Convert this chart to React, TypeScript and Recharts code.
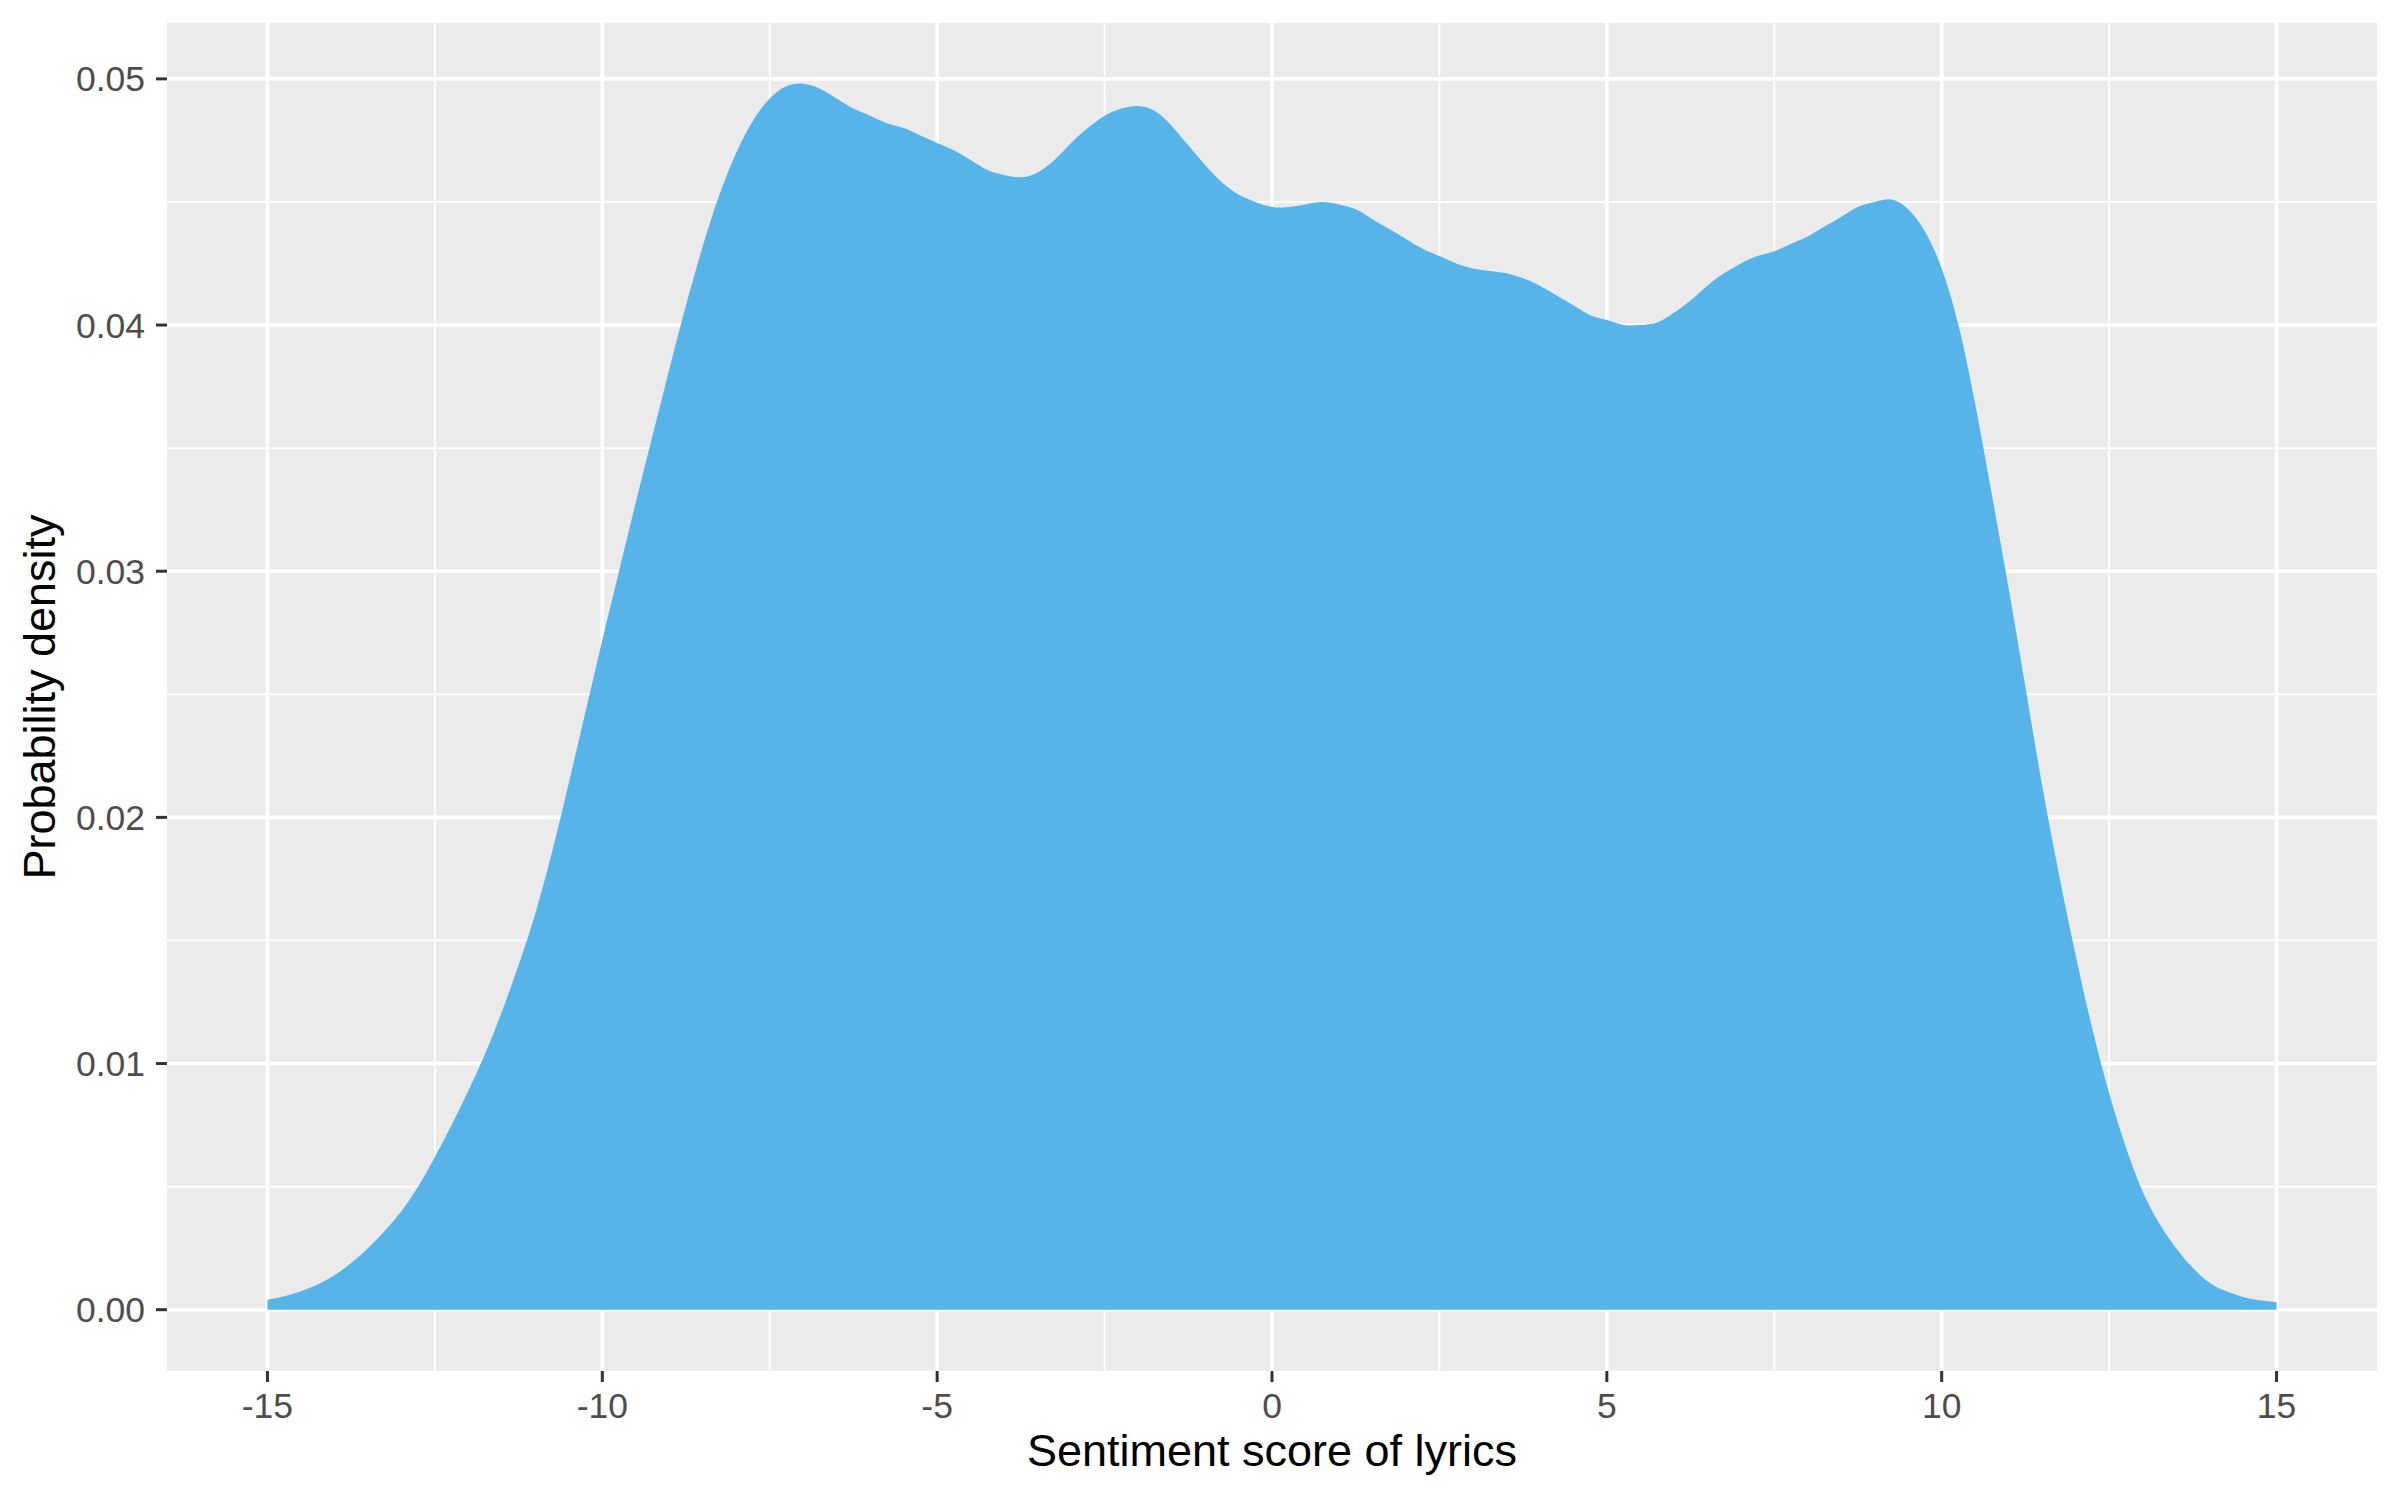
import { AreaChart, Area, XAxis, YAxis, CartesianGrid } from 'recharts'

// kernel density of lyric sentiment
const SCORE = [
  -15, -14.75, -14.5, -14.25, -14, -13.75, -13.5, -13.25, -13, -12.75,
  -12.5, -12.25, -12, -11.75, -11.5, -11.25, -11, -10.75, -10.5, -10.25,
  -10, -9.75, -9.5, -9.25, -9, -8.75, -8.5, -8.25, -8, -7.75,
  -7.5, -7.25, -7, -6.75, -6.5, -6.25, -6, -5.75, -5.5, -5.25,
  -5, -4.75, -4.5, -4.25, -4, -3.75, -3.5, -3.25, -3, -2.75,
  -2.5, -2.25, -2, -1.75, -1.5, -1.25, -1, -0.75, -0.5, -0.25,
  0, 0.25, 0.5, 0.75, 1, 1.25, 1.5, 1.75, 2, 2.25,
  2.5, 2.75, 3, 3.25, 3.5, 3.75, 4, 4.25, 4.5, 4.75,
  5, 5.25, 5.5, 5.75, 6, 6.25, 6.5, 6.75, 7, 7.25,
  7.5, 7.75, 8, 8.25, 8.5, 8.75, 9, 9.25, 9.5, 9.75,
  10, 10.25, 10.5, 10.75, 11, 11.25, 11.5, 11.75, 12, 12.25,
  12.5, 12.75, 13, 13.25, 13.5, 13.75, 14, 14.25, 14.5, 14.75,
  15,
]

const DENSITY = [
  0.0004, 0.00055, 0.00075, 0.00102, 0.0014, 0.0019, 0.0025, 0.0032, 0.0040, 0.0050,
  0.0062, 0.0075, 0.0089, 0.0104, 0.0121, 0.0140, 0.0161, 0.0186, 0.0214, 0.0243,
  0.0272, 0.0300, 0.0328, 0.0355, 0.0382, 0.0408, 0.0432, 0.0453, 0.0470, 0.0483,
  0.0492, 0.0497, 0.0498, 0.0496, 0.0492, 0.0488, 0.0485, 0.0482, 0.0480, 0.0477,
  0.0474, 0.0471, 0.0467, 0.0463, 0.0461, 0.0460, 0.0462, 0.0467, 0.0474, 0.0480,
  0.0485, 0.0488, 0.0489, 0.0487, 0.0481, 0.0473, 0.0465, 0.0458, 0.0453, 0.0450,
  0.0448, 0.0448, 0.0449, 0.0450, 0.0449, 0.0447, 0.0443, 0.0439, 0.0435, 0.0431,
  0.0428, 0.0425, 0.0423, 0.0422, 0.0421, 0.0419, 0.0416, 0.0412, 0.0408, 0.0404,
  0.0402, 0.0400, 0.0400, 0.0401, 0.0405, 0.0410, 0.0416, 0.0421, 0.0425, 0.0428,
  0.0430, 0.0433, 0.0436, 0.0440, 0.0444, 0.0448, 0.0450, 0.0451, 0.0447, 0.0438,
  0.0423, 0.0400, 0.0368, 0.0331, 0.0293, 0.0253, 0.0213, 0.0177, 0.0144, 0.0114,
  0.0088, 0.0066, 0.0048, 0.0035, 0.0025, 0.0017, 0.0011, 0.00075, 0.00052, 0.00038,
  0.0003,
]

const X_TICKS = [-15, -10, -5, 0, 5, 10, 15]
const X_MINOR = [-12.5, -7.5, -2.5, 2.5, 7.5, 12.5]
const Y_TICKS = [0, 0.01, 0.02, 0.03, 0.04, 0.05]
const Y_MINOR = [0.005, 0.015, 0.025, 0.035, 0.045]

const FILL = '#56B4E9'
const PANEL = '#EBEBEB'
const FONT = '"Liberation Sans", Arial, Helvetica, sans-serif'

const tickStyle = { fill: '#4D4D4D', fontSize: 35.5, fontFamily: FONT }

function XTitle({ viewBox }: any) {
  const cx = viewBox.x + viewBox.width / 2
  return (
    <text x={cx} y={viewBox.y + 95} textAnchor="middle" fill="#000" fontSize={45} fontFamily={FONT}>
      Sentiment score of lyrics
    </text>
  )
}

function YTitle({ viewBox }: any) {
  const cx = viewBox.x + 55
  const cy = viewBox.y + viewBox.height / 2
  return (
    <text x={cx} y={cy} transform={`rotate(-90 ${cx} ${cy})`} textAnchor="middle" fill="#000" fontSize={45} fontFamily={FONT}>
      Probability density
    </text>
  )
}

export default function App() {
  const data = SCORE.map((x, i) => ({ x, density: DENSITY[i] }))

  return (
    <div style={{ position: 'absolute', left: 0, top: 0, width: 2400, height: 1500, background: '#fff' }}>
      <AreaChart width={2400} height={1500} data={data} margin={{ top: 23, right: 23, bottom: 0, left: 0 }}>
        <CartesianGrid
          fill={PANEL}
          stroke="#fff"
          strokeWidth={1.8}
          horizontalValues={Y_MINOR}
          verticalValues={X_MINOR}
        />
        <CartesianGrid
          stroke="#fff"
          strokeWidth={3.6}
          horizontalValues={Y_TICKS}
          verticalValues={X_TICKS}
        />
        <XAxis
          dataKey="x"
          type="number"
          domain={[-16.5, 16.5]}
          ticks={X_TICKS}
          allowDataOverflow
          height={129}
          axisLine={false}
          tickSize={11}
          tickMargin={11}
          tickLine={{ stroke: '#333333', strokeWidth: 3 }}
          tick={tickStyle}
          label={XTitle}
        />
        <YAxis
          type="number"
          domain={[-0.00249, 0.05227]}
          ticks={Y_TICKS}
          allowDataOverflow
          width={167}
          axisLine={false}
          tickSize={11}
          tickMargin={11}
          tickLine={{ stroke: '#333333', strokeWidth: 3 }}
          tick={tickStyle}
          tickFormatter={(v: number) => v.toFixed(2)}
          label={YTitle}
        />
        <Area
          type="natural"
          dataKey="density"
          baseValue={0}
          fill={FILL}
          fillOpacity={1}
          stroke="none"
          isAnimationActive={false}
        />
      </AreaChart>
    </div>
  )
}
